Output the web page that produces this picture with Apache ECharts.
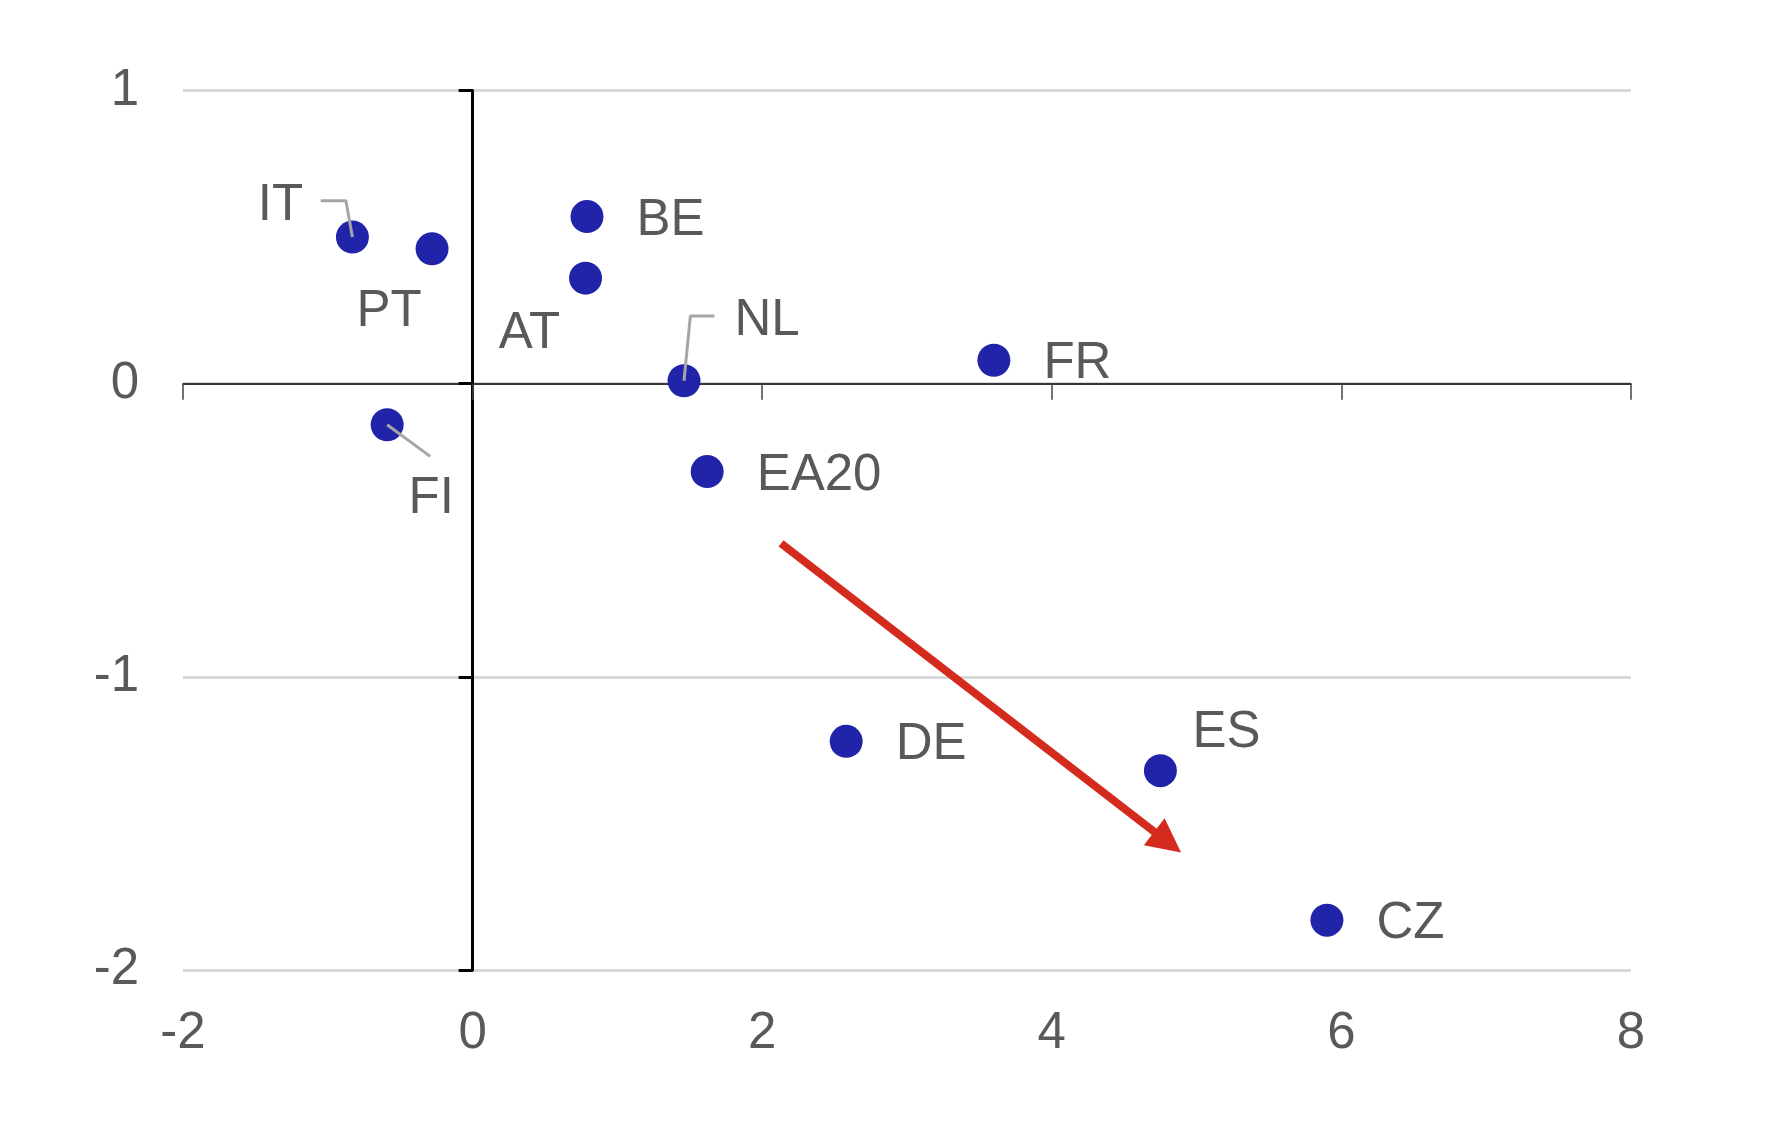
<!DOCTYPE html>
<html>
<head>
<meta charset="utf-8">
<script src="https://cdn.jsdelivr.net/npm/echarts@6/dist/echarts.min.js"></script>
<style>
html,body{margin:0;padding:0;background:#ffffff;}
#chart{width:1766px;height:1126px;}
</style>
</head>
<body>
<div id="chart"></div>
<script>
// ---- data ----
const countries = ['IT', 'PT', 'BE', 'AT', 'NL', 'FR', 'FI', 'EA20', 'DE', 'ES', 'CZ'];
const xValues   = [-0.83, -0.28, 0.79, 0.78, 1.46, 3.60, -0.59, 1.62, 2.58, 4.75, 5.90];
const yValues   = [0.50, 0.46, 0.57, 0.36, 0.01, 0.08, -0.14, -0.30, -1.22, -1.32, -1.83];
const xTicks = [-2, 0, 2, 4, 6, 8];
const yTicks = [-2, -1, 0, 1];
// annotation: trend arrow (data coordinates)
const arrowFrom = [2.13, -0.545];
const arrowTo   = [4.80, -1.564];
// label leader lines (data coordinates)
const leaderIT = [[-1.049, 0.624], [-0.875, 0.624], [-0.83, 0.50]];
const leaderNL = [[1.670, 0.231], [1.504, 0.231], [1.46, 0.01]];
const leaderFI = [[-0.59, -0.14], [-0.293, -0.248]];

// ---- style / placement config ----
const FONT = "'Liberation Sans', Arial, sans-serif";
const TEXT_COLOR = '#595959';
const FS = 51;
const DY = 4; // small vertical text nudge
const labelOffsets = {
  IT: [-72, -35 + DY],
  PT: [-43, 59 + DY],
  AT: [-56, 52 + DY],
  NL: [83, -64 + DY],
  FI: [44, 70 + DY],
  ES: [66, -42 + DY]
};

function labelFor(name) {
  const base = {show: true, formatter: '{b}', fontSize: FS, fontFamily: FONT, color: TEXT_COLOR, textBorderWidth: 0};
  if (labelOffsets[name]) {
    return Object.assign(base, {position: 'inside', align: 'center', verticalAlign: 'middle', offset: labelOffsets[name]});
  }
  return Object.assign(base, {position: 'right', distance: 33, offset: [0, DY]});
}

const scatterData = countries.map((n, i) => ({
  name: n,
  value: [xValues[i], yValues[i]],
  label: labelFor(n)
}));

const leaderStyle = {color: '#a6a6a6', width: 3};
function leaderSeries(pts) {
  return {
    type: 'line', xAxisIndex: 0, yAxisIndex: 0, data: pts, symbol: 'none',
    lineStyle: leaderStyle, z: 5, silent: true, animation: false
  };
}

const chart = echarts.init(document.getElementById('chart'), null, {renderer: 'canvas'});
const option = {
  animation: false,
  backgroundColor: '#ffffff',
  grid: {left: 183, right: 135, top: 90.5, bottom: 156, containLabel: false},
  xAxis: [
    {
      type: 'value', min: xTicks[0], max: xTicks[xTicks.length - 1], interval: 2, position: 'bottom',
      axisLine: {show: false, onZero: false}, axisTick: {show: false}, splitLine: {show: false},
      axisLabel: {fontSize: FS, fontFamily: FONT, color: TEXT_COLOR, margin: 38}
    },
    {
      type: 'value', min: xTicks[0], max: xTicks[xTicks.length - 1], interval: 2, position: 'bottom',
      axisLine: {show: true, onZero: true, onZeroAxisIndex: 1, lineStyle: {color: '#000000', width: 1.5}},
      axisTick: {show: true, length: 16, lineStyle: {color: '#444444', width: 1.5}},
      axisLabel: {show: false}, splitLine: {show: false}
    }
  ],
  yAxis: [
    {
      type: 'value', min: yTicks[0], max: yTicks[yTicks.length - 1], interval: 1, position: 'left',
      axisLine: {show: false, onZero: false}, axisTick: {show: false},
      splitLine: {show: true, lineStyle: {color: '#d9d9d9', width: 3.2}},
      axisLabel: {fontSize: FS, fontFamily: FONT, color: TEXT_COLOR, margin: 44, padding: [2 * DY, 0, 0, 0]}
    },
    {
      type: 'value', min: yTicks[0], max: yTicks[yTicks.length - 1], interval: 1, position: 'left',
      axisLine: {show: true, onZero: true, onZeroAxisIndex: 1, lineStyle: {color: '#000000', width: 3}},
      axisTick: {show: true, length: 14, lineStyle: {color: '#000000', width: 3}},
      axisLabel: {show: false}, splitLine: {show: false}
    }
  ],
  series: [
    {
      type: 'scatter', xAxisIndex: 0, yAxisIndex: 0,
      symbolSize: 33,
      itemStyle: {color: '#2124a8', opacity: 1},
      data: scatterData,
      z: 3,
      markLine: {
        silent: true,
        symbol: ['none', 'triangle'],
        symbolSize: [34, 34],
        label: {show: false},
        lineStyle: {color: '#d52b1e', width: 8, type: 'solid'},
        emphasis: {disabled: true},
        data: [[{coord: arrowFrom}, {coord: arrowTo}]]
      }
    },
    leaderSeries(leaderIT),
    leaderSeries(leaderNL),
    leaderSeries(leaderFI)
  ]
};
chart.setOption(option);
</script>
</body>
</html>
